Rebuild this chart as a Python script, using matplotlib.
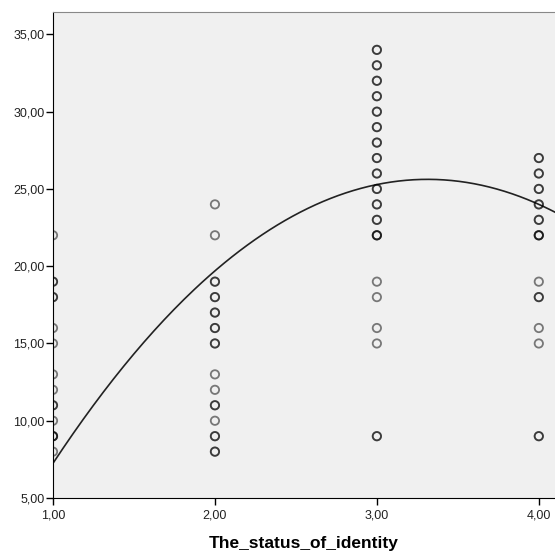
import numpy as np
import matplotlib
matplotlib.use("Agg")
from matplotlib import pyplot as plt
from matplotlib.ticker import FuncFormatter

# status groups and the scores (repeats = overlapping points)
status = [1, 2, 3, 4]
scores_1 = [22, 19, 19, 18, 18, 16, 15, 13, 12, 11, 11, 10, 9, 9, 9, 8]
scores_2 = [24, 22, 19, 19, 18, 18, 17, 17, 16, 16, 15, 15, 13, 12, 11, 11, 10, 9, 9, 8, 8]
scores_3 = [34, 34, 33, 33, 32, 32, 31, 31, 30, 30, 29, 29, 28, 28, 27, 27, 26, 26,
            25, 25, 24, 24, 23, 23, 22, 22, 22, 19, 18, 16, 15, 9, 9]
scores_4 = [27, 27, 26, 26, 25, 25, 24, 24, 23, 23, 22, 22, 22, 19, 18, 18, 16, 15, 9, 9]
all_scores = [scores_1, scores_2, scores_3, scores_4]

# quadratic fit line (a + b*x + c*x^2)
fit_a, fit_b, fit_c = -12.07, 22.75, -3.433

fig = plt.figure(figsize=(5.55, 5.51), dpi=100)
ax = fig.add_axes([53 / 555, 53 / 551, 502 / 555, 486 / 551])
ax.set_facecolor("#f0f0f0")

for s, ys in zip(status, all_scores):
    ax.scatter([s] * len(ys), ys, s=36, facecolors="none", edgecolors="black",
               linewidths=1.3, alpha=0.5, zorder=3)

xs = np.linspace(1, 4.1, 200)
ax.plot(xs, fit_a + fit_b * xs + fit_c * xs ** 2, color="#222222", lw=1.2, zorder=2)

ax.set_xlim(1, 4.1)
ax.set_ylim(5, 36.45)
ax.set_xticks([1, 2, 3, 4])
ax.set_yticks([5, 10, 15, 20, 25, 30, 35])
fmt = FuncFormatter(lambda v, p: f"{v:.2f}".replace(".", ","))
ax.xaxis.set_major_formatter(fmt)
ax.yaxis.set_major_formatter(fmt)
ax.tick_params(direction="out", length=5, width=1, labelsize=9, colors="black",
               labelcolor="#222222", pad=1)
ax.tick_params(axis="x", pad=3)

ax.spines["right"].set_visible(False)
ax.spines["top"].set_color("#888888")
ax.spines["left"].set_color("black")
ax.spines["bottom"].set_color("black")

ax.set_xlabel("The_status_of_identity", fontsize=12.5, fontweight="bold",
              family=["Liberation Sans", "DejaVu Sans"], labelpad=11)
for lab in ax.get_xticklabels() + ax.get_yticklabels():
    lab.set_family(["Liberation Sans", "DejaVu Sans"])

fig.savefig("out.png", dpi=100)
